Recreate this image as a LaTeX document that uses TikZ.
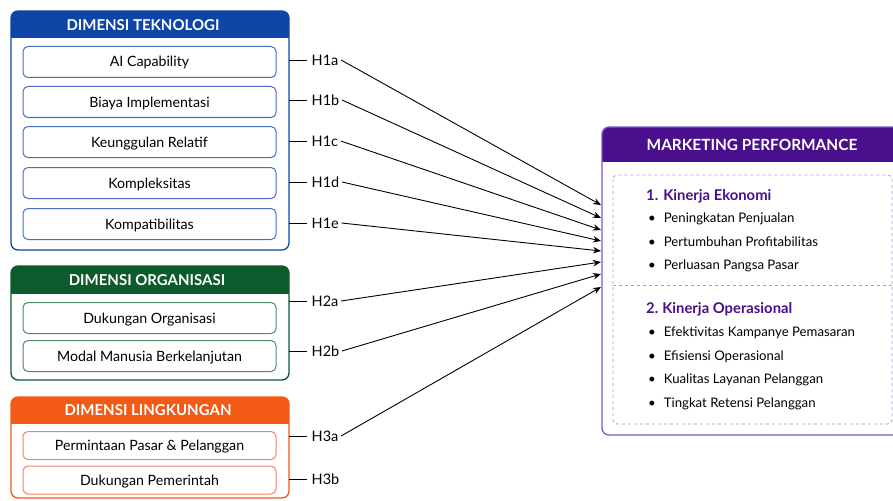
\documentclass[tikz,border=0pt]{standalone}
\usepackage{fontspec}
\setmainfont{Lato}
\usetikzlibrary{arrows.meta}
\definecolor{techc}{HTML}{0F45A6}
\definecolor{techl}{HTML}{4A6CC6}
\definecolor{orgc}{HTML}{0D5A2C}
\definecolor{orgl}{HTML}{4E8A62}
\definecolor{envc}{HTML}{F25A16}
\definecolor{envl}{HTML}{F08660}
\definecolor{mktc}{HTML}{4A0F8C}
\definecolor{mktl}{HTML}{7A5CC8}
\definecolor{dashc}{HTML}{A79AD8}
\tikzset{
  outerbox/.style={draw=#1, line width=1.3pt, rounded corners=7pt},
  itembox/.style={draw=#1, line width=1pt, rounded corners=5pt, fill=white,
    minimum width=253pt, minimum height=31pt, inner sep=0pt, text height=10pt, text depth=0pt,
    font=\fontsize{14.2}{16}\selectfont},
  headtxt/.style={text=white, font=\bfseries\fontsize{15}{17}\selectfont, inner sep=0pt,
    text height=10.8pt, text depth=0pt},
  hlab/.style={anchor=west, inner sep=2.5pt, text height=10.3pt, text depth=0pt, font=\fontsize{14.5}{16}\selectfont},
  hline/.style={line width=0.9pt, black},
  arr/.style={line width=0.9pt, black, -{Stealth[length=8pt,width=6.5pt]}},
  mtitle/.style={anchor=west, inner sep=0pt, text=mktc, text height=10.6pt, text depth=0pt, font=\bfseries\fontsize{14.8}{17}\selectfont},
  mitem/.style={anchor=west, inner sep=0pt, text height=9.5pt, text depth=0pt, font=\fontsize{13.2}{15}\selectfont},
}
\begin{document}
\begin{tikzpicture}[x=1pt,y=-1pt]
\useasboundingbox (0,0) rectangle (893,500);
\clip (0,0) rectangle (893,500);
\fill[white] (0,0) rectangle (893,500);

% ---------- Technology ----------
\begin{scope}
  \clip[rounded corners=7pt] (11,11) rectangle (289,250);
  \fill[techc] (11,11) rectangle (289,38);
\end{scope}
\draw[outerbox=techc] (11,11) rectangle (289,250);
\node[headtxt] (techh) at (143,25) {DIMENSI TEKNOLOGI};
\node[itembox=techl] (t1) at (149.5,62) {AI Capability};
\node[itembox=techl] (t2) at (149.5,102) {Biaya Implementasi};
\node[itembox=techl] (t3) at (149.5,142) {Keunggulan Relatif};
\node[itembox=techl] (t4) at (149.5,183) {Kompleksitas};
\node[itembox=techl] (t5) at (149.5,224) {Kompatibilitas};

% ---------- Organisation ----------
\begin{scope}
  \clip[rounded corners=7pt] (11,266) rectangle (289,380);
  \fill[orgc] (11,266) rectangle (289,294);
\end{scope}
\draw[outerbox=orgc] (11,266) rectangle (289,380);
\node[headtxt] (orgh) at (147,280.5) {DIMENSI ORGANISASI};
\node[itembox=orgl] (o1) at (149.5,318) {Dukungan Organisasi};
\node[itembox=orgl] (o2) at (149.5,356) {Modal Manusia Berkelanjutan};

% ---------- Environment ----------
\begin{scope}
  \clip[rounded corners=7pt] (11,397) rectangle (289,498);
  \fill[envc] (11,397) rectangle (289,424);
\end{scope}
\draw[outerbox=envc] (11,397) rectangle (289,498);
\node[headtxt] (envh) at (148,410.5) {DIMENSI LINGKUNGAN};
\node[itembox=envl, minimum height=28pt] (e1) at (149.5,445.5) {Permintaan Pasar \& Pelanggan};
\node[itembox=envl, minimum height=28pt] (e2) at (149.5,480) {Dukungan Pemerintah};

% ---------- Marketing performance ----------
\begin{scope}
  \clip[rounded corners=8pt] (602,127) rectangle (900,435);
  \fill[mktc] (602,127) rectangle (900,162);
\end{scope}
\draw[outerbox=mktl] (602,127) rectangle (900,435);
\node[headtxt, font=\bfseries\fontsize{15.4}{18}\selectfont] (mkth) at (752,145) {MARKETING PERFORMANCE};
\draw[dashc, dashed, line width=0.8pt, rounded corners=4pt] (613,175) rectangle (892,424);
\draw[dashc, dashed, line width=0.8pt] (613,285) -- (892,285);

\node[mtitle] (k1) at (646,195) {1.\hspace{5pt}Kinerja Ekonomi};
\node[mitem] (k1a) at (648,218) {\textbullet\hspace{8pt}Peningkatan Penjualan};
\node[mitem] (k1b) at (648,241.5) {\textbullet\hspace{8pt}Pertumbuhan Profitabilitas};
\node[mitem] (k1c) at (648,265) {\textbullet\hspace{8pt}Perluasan Pangsa Pasar};
\node[mtitle] (k2) at (646,308) {2.\hspace{4pt}Kinerja Operasional};
\node[mitem] (k2a) at (648,332) {\textbullet\hspace{8pt}Efektivitas Kampanye Pemasaran};
\node[mitem] (k2b) at (648,355.5) {\textbullet\hspace{8pt}Efisiensi Operasional};
\node[mitem] (k2c) at (648,379) {\textbullet\hspace{8pt}Kualitas Layanan Pelanggan};
\node[mitem] (k2d) at (648,402.5) {\textbullet\hspace{8pt}Tingkat Retensi Pelanggan};

% ---------- Hypothesis labels ----------
\coordinate (tedge) at (289,0);
\node[hlab] (h1a) at (309,60) {H1a};
\node[hlab] (h1b) at (309,100) {H1b};
\node[hlab] (h1c) at (309,141) {H1c};
\node[hlab] (h1d) at (309,182) {H1d};
\node[hlab] (h1e) at (309,223) {H1e};
\node[hlab] (h2a) at (309,301) {H2a};
\node[hlab] (h2b) at (309,351) {H2b};
\node[hlab] (h3a) at (309,436) {H3a};
\node[hlab] (h3b) at (309,479) {H3b};
\foreach \h in {h1a,h1b,h1c,h1d,h1e,h2a,h2b,h3a,h3b}
  \draw[hline] (tedge |- \h.west) -- ++(18,0);

% ---------- Arrow targets ----------
\coordinate (p1) at (601,205);
\coordinate (p2) at (601,218);
\coordinate (p3) at (601,230);
\coordinate (p4) at (601,241);
\coordinate (p5) at (601,251);
\coordinate (p6) at (601,262);
\coordinate (p7) at (601,274);
\coordinate (p8) at (601,287);
\draw[arr] (h1a.east) -- (p1);
\draw[arr] (h1b.east) -- (p2);
\draw[arr] (h1c.east) -- (p3);
\draw[arr] (h1d.east) -- (p4);
\draw[arr] (h1e.east) -- (p5);
\draw[arr] (h2a.east) -- (p6);
\draw[arr] (h2b.east) -- (p7);
\draw[arr] (h3a.east) -- (p8);
\end{tikzpicture}
\end{document}
